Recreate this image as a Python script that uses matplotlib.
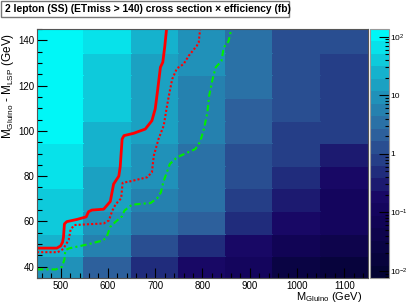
import numpy as np
import matplotlib
matplotlib.use('Agg')
import matplotlib.pyplot as plt
from matplotlib.colors import LinearSegmentedColormap, ListedColormap, LogNorm
from matplotlib.ticker import MultipleLocator, LogLocator, NullFormatter
from matplotlib.patches import Rectangle

plt.rcParams['font.family'] = ['Liberation Sans', 'DejaVu Sans']
plt.rcParams['mathtext.fontset'] = 'custom'
plt.rcParams['mathtext.rm'] = 'Liberation Sans'
plt.rcParams['mathtext.it'] = 'Liberation Sans:italic'
plt.rcParams['mathtext.bf'] = 'Liberation Sans:bold'

# bin centres (GeV)
m_gluino = [500, 600, 700, 800, 900, 1000, 1100]
delta_m = [40, 50, 60, 70, 80, 90, 100, 110, 120, 130, 140]

# cross section x efficiency (fb), one row per delta_m, columns = m_gluino
xsec_eff = [
    [9.2, 2.1, 0.49, 0.18, 0.11, 0.026, 0.016],   # 40
    [24, 5.6, 1.3, 0.49, 0.18, 0.069, 0.042],     # 50
    [40, 9.2, 3.4, 2.1, 0.49, 0.18, 0.11],        # 60
    [40, 15, 5.6, 3.4, 0.79, 0.30, 0.11],         # 70
    [65, 15, 9.2, 3.4, 1.3, 0.49, 0.18],          # 80
    [65, 24, 9.2, 3.4, 1.3, 0.79, 0.30],          # 90
    [105, 24, 15, 5.6, 2.1, 0.79, 0.79],          # 100
    [105, 40, 15, 5.6, 2.1, 1.3, 0.79],           # 110
    [105, 40, 15, 5.6, 3.4, 1.3, 0.79],           # 120
    [105, 40, 15, 9.2, 3.4, 1.3, 0.79],           # 130
    [105, 65, 24, 9.2, 3.4, 1.3, 1.3],            # 140
]
z_min, z_max = 0.0076, 135.0

# contours
solid_x = [450, 492, 500, 504, 506, 508, 513, 535, 554, 559, 566, 591, 605, 612, 623,
           626, 630, 634, 654, 679, 693, 700, 705, 711, 716, 720, 724]
solid_y = [48.2, 48.2, 49.2, 50.8, 53, 58.9, 59.9, 60.9, 62, 64.3, 65.0, 65.4, 68.8, 76.5, 80,
           84.2, 96.4, 97.9, 98.9, 100.8, 104.5, 109.7, 117.8, 128.1, 130.3, 136.9, 145]
dotted_x = [450, 494, 503, 506, 517, 521, 529, 591, 602, 609, 616, 628, 631, 647, 683,
            693, 697, 707, 718, 725, 731, 736, 746, 760, 771, 788, 792, 795]
dotted_y = [46.4, 46.4, 47.5, 48.1, 51.8, 56.4, 58.4, 59.1, 60.4, 64.6, 67.5, 70.2, 77.0, 77.7, 79.5,
            81.7, 89.0, 96.4, 102.3, 111.1, 117.8, 122.9, 127.6, 129.5, 133.2, 137.6, 139.1, 145]
dashdot_x = [450, 490, 503, 508, 510, 518, 556, 590, 598, 605, 616, 630, 635, 651, 690,
             704, 712, 717, 731, 746, 785, 795, 803, 810, 814, 821, 828, 840, 845, 855, 861]
dashdot_y = [38.8, 38.8, 40.0, 43.2, 47.3, 48.1, 49.8, 51.6, 53.5, 57.6, 59.8, 62.3, 64.8, 67.4, 68.1,
             70.2, 72.8, 77.3, 85.4, 88.3, 92.0, 95.2, 100.8, 107.8, 115.5, 122.6, 128.1, 130.8, 136.9, 139.5, 145]

deepsea = LinearSegmentedColormap.from_list('deepsea', [
    (0.00, (0.00, 0.01, 0.17)),
    (0.34, (0.09, 0.02, 0.39)),
    (0.61, (0.18, 0.39, 0.62)),
    (0.84, (0.09, 0.68, 0.79)),
    (1.00, (0.00, 0.97, 0.97))])
n_cont = 20
cmap = ListedColormap([deepsea((k + 1) / n_cont) for k in range(n_cont)])

x_edges = np.append(np.array(m_gluino) - 50, m_gluino[-1] + 50)
y_edges = np.append(np.array(delta_m) - 5, delta_m[-1] + 5)

fig = plt.figure(figsize=(4.07, 3.04), dpi=100)
W, H = 407.0, 304.0
ax = fig.add_axes([37 / W, 1 - 278 / H, 331 / W, 249 / H])
cax = fig.add_axes([370 / W, 1 - 278 / H, 19 / W, 249 / H])

mesh = ax.pcolormesh(x_edges, y_edges, np.array(xsec_eff), cmap=cmap,
                     norm=LogNorm(vmin=z_min, vmax=z_max))
mesh.set_edgecolor('face')

ax.plot(solid_x, solid_y, color='#ff0000', lw=2.0, solid_capstyle='butt')
ax.plot(dotted_x, dotted_y, color='#ff0000', lw=1.5, linestyle=(0, (1, 1)))
ax.plot(dashdot_x, dashdot_y, color='#00ee00', lw=1.5, linestyle=(0, (3, 1.5, 1, 1.5)))

ax.set_xlim(450, 1150)
ax.set_ylim(35, 145)
ax.xaxis.set_major_locator(MultipleLocator(100))
ax.xaxis.set_minor_locator(MultipleLocator(20))
ax.yaxis.set_major_locator(MultipleLocator(20))
ax.yaxis.set_minor_locator(MultipleLocator(5))
ax.set_xticks([500, 600, 700, 800, 900, 1000, 1100])
ax.tick_params(which='both', direction='in', top=False, right=False, color='black', width=0.8,
               labelsize=7, colors='black')
ax.tick_params(which='major', length=7)
ax.tick_params(which='minor', length=3.5)
ax.tick_params(axis='x', pad=2)
ax.tick_params(axis='y', pad=2)
for s in ax.spines.values():
    s.set_color('#555555')
    s.set_linewidth(0.8)

ax.set_xlabel(r'M$_{\mathrm{Gluino}}$ (GeV)', fontsize=8, loc='right')
ax.xaxis.set_label_coords(0.982, -0.05)
ax.set_ylabel(r'M$_{\mathrm{Gluino}}$ - M$_{\mathrm{LSP}}$ (GeV)', fontsize=8.5, loc='top')
ax.yaxis.set_label_coords(-0.062, 0.985)

cb = fig.colorbar(mesh, cax=cax)
cb.outline.set_edgecolor('#999999')
cb.outline.set_linewidth(0.8)
cb.set_ticks([0.01, 0.1, 1, 10, 100])
cb.set_ticklabels([r'10$^{\mathregular{-2}}$', r'10$^{\mathregular{-1}}$', '1', '10', r'10$^{2}$'])
cax.yaxis.set_minor_locator(LogLocator(base=10, subs=np.arange(2, 10)))
cax.yaxis.set_minor_formatter(NullFormatter())
cax.tick_params(which='both', direction='in', right=True, left=False, color='black',
                width=0.8, labelsize=6, pad=1)
cax.tick_params(which='major', length=7)
cax.tick_params(which='minor', length=3)

# title box
fig.patches.append(Rectangle((1 / W, 1 - 17 / H), 288 / W, 16 / H, transform=fig.transFigure,
                             facecolor='white', edgecolor='#777777', lw=1.0))
fig.text(5 / W, 1 - 9 / H, '2 lepton (SS) (ETmiss > 140) cross section \u00d7 efficiency (fb)',
         fontsize=7.4, fontweight='bold', ha='left', va='center')

fig.savefig('out.png', dpi=100)
